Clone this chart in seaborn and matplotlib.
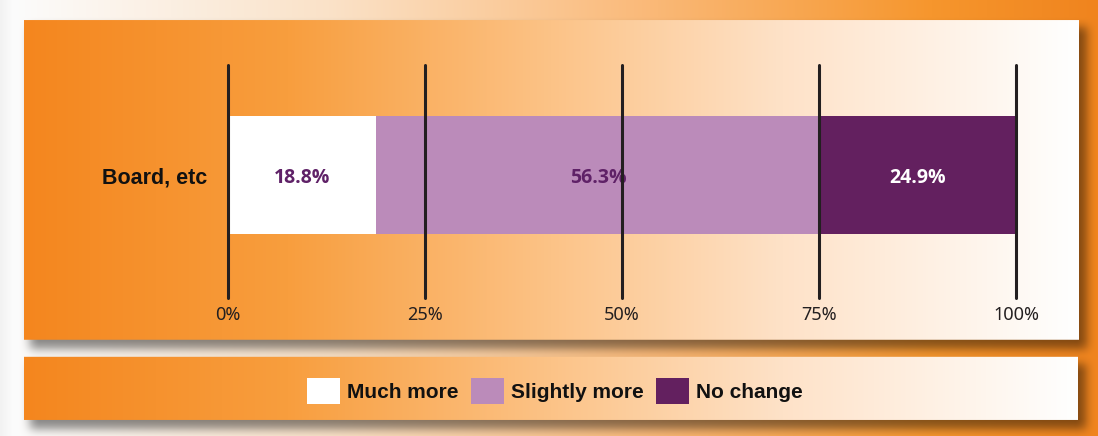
import numpy as np
import pandas as pd
import matplotlib
matplotlib.use("Agg")
import matplotlib.pyplot as plt
from matplotlib import font_manager
from matplotlib.patches import Patch
from matplotlib.transforms import ScaledTranslation
import seaborn as sns

# ---- data ----
categories = ["Board, etc"]
much_more = [18.8]
slightly_more = [56.3]
no_change = [24.9]
series_labels = ["Much more", "Slightly more", "No change"]
tick_values = [0, 25, 50, 75, 100]
tick_labels = ["0%", "25%", "50%", "75%", "100%"]

series_colors = ["#FFFFFF", "#BB8BBA", "#63205F"]
value_colors = ["#5F2167", "#5F2167", "#FFFFFF"]

W, H = 1098, 436
DPI = 100

sns.set_theme(style="white")


def pick_font(names, bold=False):
    for n in names:
        try:
            path = font_manager.findfont(
                font_manager.FontProperties(family=n,
                                            weight="bold" if bold else "normal"),
                fallback_to_default=False)
            if bold and "bold" not in path.lower() and "[" not in path:
                continue
            return n
        except Exception:
            continue
    return "DejaVu Sans"


narrow = pick_font(["Liberation Sans Narrow", "Liberation Sans", "DejaVu Sans"], bold=True)
plain = pick_font(["Noto Sans", "Open Sans", "DejaVu Sans"])
strong = pick_font(["Open Sans", "Noto Sans", "Lato", "DejaVu Sans"], bold=True)
plt.rcParams["font.family"] = [plain, "DejaVu Sans"]


# ---- backdrop: framed panels with soft drop shadows ----
def hgrad(width, stops):
    pos = np.array([s[0] for s in stops])
    cols = np.array([s[1] for s in stops], dtype=float)
    x = np.linspace(0, 1, width)
    return np.stack([np.interp(x, pos, cols[:, k]) for k in range(3)], axis=1)


def box_blur(a, r):
    p = np.pad(a, r, mode="edge")
    c = np.cumsum(p, axis=0)
    c = np.vstack([np.zeros((1, c.shape[1])), c])
    a1 = (c[2 * r + 1:] - c[:-2 * r - 1]) / (2 * r + 1)
    c = np.cumsum(a1, axis=1)
    c = np.hstack([np.zeros((c.shape[0], 1)), c])
    return (c[:, 2 * r + 1:] - c[:, :-2 * r - 1]) / (2 * r + 1)


back = hgrad(W, [(0.0, (242, 242, 242)), (0.012, (252, 252, 252)),
                 (0.3, (250, 226, 200)), (0.6, (250, 184, 118)),
                 (0.85, (246, 150, 45)), (1.0, (240, 132, 30))])
img = np.repeat(back[None, :, :], H, axis=0)

panels = [(24, 21, 1079, 340), (24, 357, 1078, 420)]
mask = np.zeros((H, W))
for x0, y0, x1, y1 in panels:
    mask[y0 + 7:y1 + 9, x0 + 6:x1 + 8] = 1.0
mask = box_blur(box_blur(mask, 5), 5)
img = img * (1 - 0.45 * mask[:, :, None])

for x0, y0, x1, y1 in panels:
    g = hgrad(x1 - x0, [(0.0, (244, 134, 30)), (0.25, (248, 158, 62)),
                        (0.5, (252, 195, 135)), (0.72, (254, 226, 200)),
                        (1.0, (255, 255, 255))])
    img[y0:y1, x0:x1] = g[None, :, :]

fig = plt.figure(figsize=(W / DPI, H / DPI), dpi=DPI)
bg_ax = fig.add_axes([0, 0, 1, 1], zorder=0)
bg_ax.imshow(np.clip(img, 0, 255).astype(np.uint8), extent=(0, W, H, 0),
             aspect="auto", interpolation="bilinear")
bg_ax.set_axis_off()

# ---- stacked horizontal bar ----
df = pd.DataFrame({"category": categories,
                   series_labels[0]: much_more,
                   series_labels[1]: slightly_more,
                   series_labels[2]: no_change})
cum = df[series_labels].cumsum(axis=1)

ax = fig.add_axes([228 / W, 1 - 298 / H, 788 / W, 233 / H], zorder=1)
ax.patch.set_alpha(0)

for name, color in reversed(list(zip(series_labels, series_colors))):
    sns.barplot(x=cum[name], y=df["category"], color=color, orient="h",
                width=0.8, saturation=1, linewidth=0, edgecolor="none",
                ax=ax, zorder=2)

# value labels, nudged slightly down so the digits sit on the bar centre
nudge = ax.transData + ScaledTranslation(0, -2 / 72, fig.dpi_scale_trans)
starts = cum.shift(axis=1, fill_value=0)
for i, cat in enumerate(categories):
    for name, tc in zip(series_labels, value_colors):
        v = df.loc[i, name]
        ax.text(starts.loc[i, name] + v / 2, i, f"{v:.1f}%", ha="center",
                va="center", color=tc, fontsize=14, fontweight="bold",
                family=[strong, "DejaVu Sans"], zorder=4, transform=nudge)

for t in tick_values:
    ax.axvline(t, color="#231F20", lw=2.2, zorder=5, clip_on=False)

ax.set_xlim(0, 100)
ax.set_ylim(0.834, -0.746)
ax.set_xticks(tick_values, tick_labels)
ax.tick_params(axis="x", length=0, pad=5.5, labelsize=13, labelcolor="#231F20")
ax.tick_params(axis="y", length=0, pad=15)
for lbl in ax.get_yticklabels():
    lbl.set_family([narrow, "DejaVu Sans"])
    lbl.set_fontweight("bold")
    lbl.set_fontsize(15.5)
    lbl.set_color("#111111")
ax.set_xlabel("")
ax.set_ylabel("")
sns.despine(ax=ax, left=True, bottom=True)

# ---- legend ----
handles = [Patch(facecolor=c, edgecolor="none") for c in series_colors]
fig.legend(handles, series_labels, loc="center",
           bbox_to_anchor=(555 / W, 1 - 391 / H), ncol=3, frameon=False,
           prop=font_manager.FontProperties(family=[narrow, "DejaVu Sans"],
                                            weight="bold", size=15),
           handlelength=1.59, handleheight=1.59, handletextpad=0.34,
           columnspacing=0.58, labelcolor="#111111", borderpad=0)

fig.savefig("out.png", dpi=DPI)
